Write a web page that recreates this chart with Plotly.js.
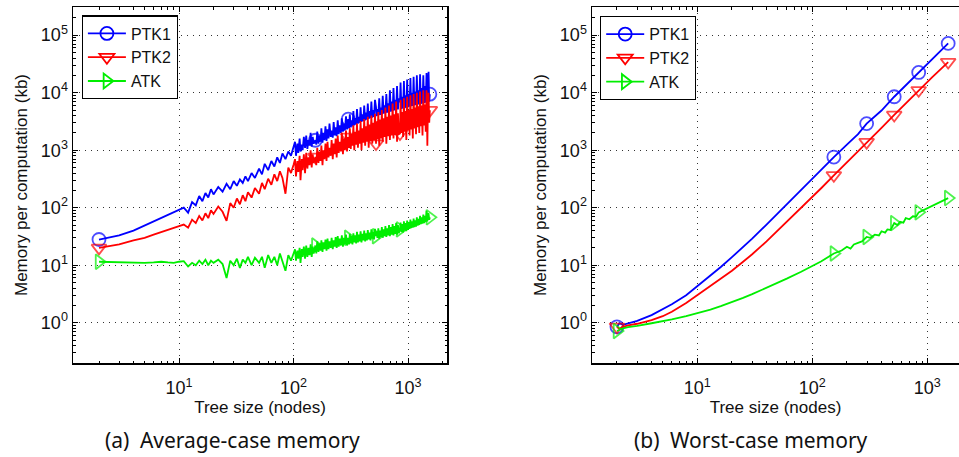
<!DOCTYPE html>
<html><head><meta charset="utf-8">
<script src="https://cdn.plot.ly/plotly-3.0.1.min.js"></script>
<style>html,body{margin:0;padding:0;background:#fff;overflow:hidden}</style>
</head><body><div id="chart" style="width:959px;height:457px"></div>
<script>
// ---------- DATA ----------
const seriesNames = ['PTK1', 'PTK2', 'ATK'];

// (a) Average-case memory
const avgX = [2,3,4,5,6,7,8,9,10,11,12,13,14,15,16,17,18,19,20,22,24,26,28,30,32,34,36,38,40,43,46,50,53,56,60,64,68,72,76,80,85,90,95,100,
  103,105,108,110,113,115,118,120,123,126,
  129,132,135,138,141,144,147,150,155,158,
  161,165,168,172,175,179,182,186,190,194,
  198,202,206,211,215,220,224,229,233,238,
  243,248,253,259,264,270,275,281,287,293,
  300,305,310,316,321,327,333,339,345,352,
  358,365,371,378,385,392,399,407,414,422,
  429,437,445,453,461,470,478,487,496,505,
  514,525,530,540,550,560,570,580,590,601,
  612,623,634,646,658,670,682,694,707,720,
  733,746,760,773,787,801,816,830,850,860,
  875,890,905,920,935,950,966,982,998,1015,
  1031,1048,1065,1083,1100,1118,1136,1155,1174,1193,
  1213,1233,1253,1273,1294,1315,1337,1359,1381,1404,
  1427,1450,1474,1492,1510,1530,1550];
const avgPTK1 = [28,33,40,49,58,66,75,82,90,100,82,125,110,160,130,180,150,210,170,230,190,260,210,290,240,310,270,350,290,400,330,480,380,580,450,650,520,750,600,880,700,950,800,1100,
  1400,800,1300,900,1600,950,1250,1000,1700,1100,
  1800,1050,1500,1200,2000,1150,1700,1300,1490,1250,
  2100,1300,1800,1400,2400,1350,2000,1500,2600,1450,
  2300,1600,2900,1700,2200,1650,3100,1800,2500,1750,
  3300,1900,2700,2000,3600,2100,2900,2200,3900,2300,
  3460,2400,4200,2500,3300,2600,4800,2700,3600,2800,
  5200,2900,3800,3000,5600,3100,4200,3200,6000,3300,
  4500,3400,6500,3500,4800,3600,7000,3700,5000,3800,
  7500,5600,3900,5200,4000,8000,4100,5500,4200,8800,
  4300,6000,4400,9500,4500,6500,4600,11000,4700,7000,
  4800,12000,4900,7500,5000,13000,5100,8000,6800,15000,
  5200,8500,5300,16000,5400,9000,5500,17000,5600,9500,
  5700,18000,5800,10000,5900,19000,6000,10500,6100,20000,
  6200,11000,6300,21000,6400,12000,6500,20000,6600,13000,
  6700,22000,6800,14000,23000,7000,9430];
const avgPTK2 = [20,23,27,30,34,38,42,45,48,51,45,62,54,72,60,80,66,90,78,105,85,59,120,100,145,115,165,130,185,150,220,175,270,210,320,250,380,290,430,330,175,500,400,560,
  700,350,650,420,800,300,700,450,850,400,
  900,480,750,550,1000,500,850,600,765,550,
  1100,600,950,650,1200,550,1000,700,1300,650,
  1400,750,1100,800,1500,700,1300,850,1600,750,
  1800,900,1400,950,2000,850,1600,1000,2200,950,
  1700,1100,2400,1050,1900,1200,2700,1000,2100,1250,
  2900,1100,2200,1300,3200,1000,2400,1350,3500,1200,
  2600,1400,3800,1100,2800,1450,4000,1300,3000,1500,
  4300,1300,3200,1550,4600,1200,3400,1600,5000,1400,
  3600,1700,5500,1300,3800,1750,6000,1500,4000,1800,
  6500,1600,4200,1850,7000,1400,4400,1900,1950,7500,
  2000,4600,1700,8000,2100,4800,1500,8500,2200,5000,
  1800,9000,2300,5200,1600,9500,2400,5500,1900,10000,
  2500,5800,2000,10500,2600,6000,1800,11000,2700,6200,
  2100,11000,1200,6500,10000,3000,4970];
const avgATK = [11.5,11.2,11,11,11.2,11.5,11.2,11,11.5,11.8,9.5,11,10,12,10.5,12.5,10,12,11,12.5,10.5,6,12,10,13,9,12.5,11,14,10,13.5,11,14,9,15,11,14,10,16,12,8,15,12,16,
  19,12,18,13,20,11,19,14,21,13,
  22,14,20,15,23,14,21,16,22,16,
  26,17,24,18,27,17,25,19,28,18,
  29,19,26,20,30,19,27,21,31,20,
  32,21,29,22,33,21,30,23,34,22,
  30,23,35,24,32,23,36,25,33,24,
  38,25,34,26,39,25,35,27,40,26,
  36,27,41,28,37,27,42,29,38,28,
  43,32,39,30,44,29,40,31,46,30,
  42,32,48,31,44,33,50,32,46,34,
  52,33,48,35,54,34,50,36,42,55,
  38,52,37,58,40,54,39,60,41,56,
  43,62,44,58,45,65,46,60,47,68,
  49,64,50,72,52,68,53,76,54,72,
  56,88,58,78,80,62,68];
const avgMarkX = {PTK1: [2,155,300,1550], PTK2: [2,155,300,525,850,1550], ATK: [2,155,300,525,850,1550]};

// (b) Worst-case memory
const worstX = [2,2.1,2.25,2.5,3,4,5,6,8,10,13,16,20,25,30,40,50,60,80,100,120,154,200,250,297,400,516,650,842,1100,1520];
const worstPTK1 = [0.85,0.98,0.92,0.98,1.08,1.36,1.7,2.1,3.0,4.3,6.6,9.3,13.8,20.5,29,51,80,115,205,320,460,760,1250,1900,2900,4900,8500,13500,22500,38000,72000];
const worstPTK2 = [0.85,0.78,0.85,0.9,0.96,1.11,1.3,1.55,2.2,3.0,4.3,5.8,8.0,11.5,15.5,26,40,57,97,150,220,365,610,960,1380,2450,4100,6500,11000,18500,34000];
const worstXATK = [2,2.1,2.25,2.5,3,4,5,6,8,10,13,16,20,25,30,40,50,60,80,100,120,154,180,200,215,230,250,270,297,320,350,380,400,430,450,480,516,550,580,620,650,700,750,800,842,1100,1520];
const worstATK = [0.72,0.76,0.8,0.84,0.88,0.98,1.06,1.14,1.3,1.45,1.69,1.94,2.27,2.7,3.14,4.03,4.93,5.84,7.7,9.6,11.7,16,18,21,19.5,23,24.5,26,31,30,34,33,39,37,42,41,54,50,57,55,66,63,71,70,83,108,147];
const worstMarkX = [2,154,297,516,842,1520];

const yTickVals = [1,10,100,1000,10000,100000];
const yTickText = ['10<sup>0</sup>','10<sup>1</sup>','10<sup>2</sup>','10<sup>3</sup>','10<sup>4</sup>','10<sup>5</sup>'];
const xTickVals = [10,100,1000];
const xTickText = ['10<sup>1</sup>','10<sup>2</sup>','10<sup>3</sup>'];

// ---------- STYLE ----------
const colors = {PTK1: '#0000ff', PTK2: '#ff0000', ATK: '#00ee00'};
const symbols = {PTK1: 'circle-open', PTK2: 'triangle-down-open', ATK: 'triangle-right-open'};
const MS = 13, LW = 1.8;

function sizes(xs, marks) { return xs.map(v => marks.indexOf(v) >= 0 ? MS : 0); }

function makeTrace(name, xs, ys, marks, xa, ya) {
  return {
    type: 'scatter', mode: 'lines+markers', name: name, x: xs, y: ys,
    xaxis: xa, yaxis: ya, showlegend: false,
    line: {color: colors[name], width: LW},
    marker: {symbol: symbols[name], size: sizes(xs, marks), color: colors[name], line: {color: colors[name], width: LW}},
    hoverinfo: 'skip'
  };
}
function legendTrace(name, xa, ya, leg) {
  return {
    type: 'scatter', mode: 'lines+markers', name: name, x: [null], y: [null],
    xaxis: xa, yaxis: ya, legend: leg, showlegend: true,
    line: {color: colors[name], width: LW},
    marker: {symbol: symbols[name], size: MS, color: colors[name], line: {color: colors[name], width: LW}},
    hoverinfo: 'skip'
  };
}

const data = [
  makeTrace('PTK1', avgX, avgPTK1, avgMarkX.PTK1, 'x', 'y'),
  makeTrace('PTK2', avgX, avgPTK2, avgMarkX.PTK2, 'x', 'y'),
  makeTrace('ATK', avgX, avgATK, avgMarkX.ATK, 'x', 'y'),
  makeTrace('PTK1', worstX, worstPTK1, worstMarkX, 'x2', 'y2'),
  makeTrace('PTK2', worstX, worstPTK2, worstMarkX, 'x2', 'y2'),
  makeTrace('ATK', worstXATK, worstATK, worstMarkX, 'x2', 'y2')
];
seriesNames.forEach(n => data.push(legendTrace(n, 'x', 'y', 'legend')));
seriesNames.forEach(n => data.push(legendTrace(n, 'x2', 'y2', 'legend2')));

function minorVals(lo, hi) {
  const out = [];
  for (let e = lo; e <= hi; e++) for (let m = 2; m <= 9; m++) out.push(m * Math.pow(10, e));
  return out;
}

const FONT = 'Liberation Sans, Arial, sans-serif';
const W = 959, H = 457;
const yDom = [(H - 363) / H, (H - 7) / H];
const TFONT = {family: FONT, size: 17, color: '#111'};

function axisBase(extra) {
  return Object.assign({
    type: 'log', showline: true, linecolor: '#000', linewidth: 1.5,
    ticks: 'inside', ticklen: 5, tickcolor: '#000', tickwidth: 1,
    showgrid: true, gridcolor: '#333', griddash: '1px,5px', gridwidth: 1,
    zeroline: false, tickmode: 'array',
    tickfont: {family: FONT, size: 18, color: '#111'}
  }, extra);
}
const minorX = {tickmode: 'array', tickvals: minorVals(0, 3), ticks: 'inside', ticklen: 2.5, tickcolor: '#000', showgrid: false};
const minorY = {tickmode: 'array', tickvals: minorVals(-1, 5), ticks: 'inside', ticklen: 2.5, tickcolor: '#000', showgrid: false};

const legendBase = {xanchor: 'left', yanchor: 'top', bgcolor: '#fff', bordercolor: '#000', borderwidth: 1.2,
  font: {family: FONT, size: 16, color: '#111'}, itemwidth: 38, tracegroupgap: 0};

const layout = {
  width: W, height: H,
  margin: {l: 0, r: 0, t: 0, b: 0},
  paper_bgcolor: '#fff', plot_bgcolor: '#fff',
  font: {family: FONT, color: '#111'},
  showlegend: true,
  xaxis: axisBase({domain: [73 / W, 447 / W], range: [0.074, 3.34], anchor: 'y', mirror: 'allticks',
    tickvals: xTickVals, ticktext: xTickText, minor: minorX, ticklabelstandoff: 8,
    title: {text: 'Tree size (nodes)', font: TFONT, standoff: 2}}),
  yaxis: axisBase({domain: yDom, range: [-0.7, 5.49], anchor: 'x', mirror: 'allticks',
    tickvals: yTickVals, ticktext: yTickText, minor: minorY,
    title: {text: 'Memory per computation (kb)', font: TFONT, standoff: 9}}),
  xaxis2: axisBase({domain: [592 / W, 1], range: [0.084, 3.276], anchor: 'y2', mirror: 'allticks',
    tickvals: xTickVals, ticktext: xTickText, minor: minorX, ticklabelstandoff: 8,
    title: {text: 'Tree size (nodes)', font: TFONT, standoff: 2}}),
  yaxis2: axisBase({domain: yDom, range: [-0.7, 5.49], anchor: 'x2', mirror: false,
    tickvals: yTickVals, ticktext: yTickText, minor: minorY,
    title: {text: 'Memory per computation (kb)', font: TFONT, standoff: 9}}),
  legend: Object.assign({x: 81.7 / W, y: 1 - 15.3 / H}, legendBase),
  legend2: Object.assign({x: 600 / W, y: 1 - 16 / H}, legendBase),
  annotations: [
    {xref: 'paper', yref: 'paper', x: 232 / W, y: 1 - 440 / H, xanchor: 'center', yanchor: 'middle', showarrow: false,
      text: '(a)\u2002Average-case memory', font: {family: 'Noto Sans, Open Sans, sans-serif', size: 21, color: '#111'}},
    {xref: 'paper', yref: 'paper', x: 751 / W, y: 1 - 440 / H, xanchor: 'center', yanchor: 'middle', showarrow: false,
      text: '(b)\u2002Worst-case memory', font: {family: 'Noto Sans, Open Sans, sans-serif', size: 21, color: '#111'}}
  ]
};

Plotly.newPlot('chart', data, layout, {staticPlot: true, displayModeBar: false});
</script></body></html>
